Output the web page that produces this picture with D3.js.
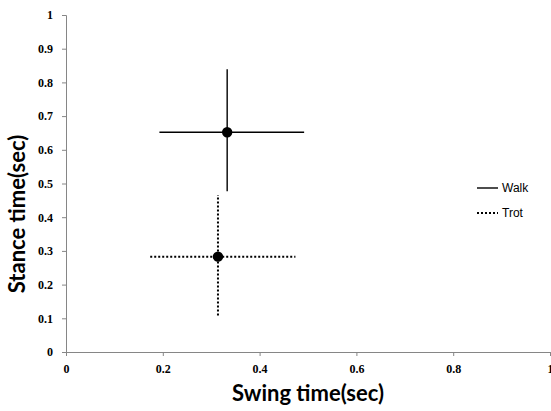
<!DOCTYPE html>
<html>
<head>
<meta charset="utf-8">
<script src="https://cdn.jsdelivr.net/npm/d3@7"></script>
<style>
    body { margin: 0; background: #fff; }
    svg { display: block; }
</style>
</head>
<body>
<div id="chart"></div>
<script>
'use strict';

// data
var seriesNames = ['Walk', 'Trot'];
var swingMean = [0.333, 0.314];
var swingLow = [0.193, 0.174];
var swingHigh = [0.492, 0.474];
var stanceMean = [0.652, 0.283];
var stanceLow = [0.477, 0.108];
var stanceHigh = [0.839, 0.466];
var xTicks = [0, 0.2, 0.4, 0.6, 0.8, 1];
var yTicks = [0, 0.1, 0.2, 0.3, 0.4, 0.5, 0.6, 0.7, 0.8, 0.9, 1];

var width = 551,
    height = 411,
    margin = { top: 15, left: 66, right: 1, bottom: 59 },
    axisColor = '#868686',
    dashes = [null, '2,2'],
    strokeW = [1.4, 2];

var svg = d3.select('#chart').append('svg')
    .attr('width', width)
    .attr('height', height);

var x = d3.scaleLinear().domain([0, 1]).range([margin.left, width - margin.right]),
    y = d3.scaleLinear().domain([0, 1]).range([height - margin.bottom, margin.top]);

var tickFont = '"Liberation Serif", "Times New Roman", serif',
    titleFont = 'Lato, "Open Sans", sans-serif';

//Y axis
var yAxis = svg.append('g')
    .attr('transform', 'translate(' + margin.left + ',0)')
    .call(d3.axisLeft(y).tickValues(yTicks).tickSize(4).tickPadding(9)
        .tickFormat(d => d3.format('')(+d.toFixed(1))));

//X axis
var xAxis = svg.append('g')
    .attr('transform', 'translate(0,' + y(0) + ')')
    .call(d3.axisBottom(x).tickValues(xTicks).tickSize(4).tickPadding(8)
        .tickFormat(d => d3.format('')(+d.toFixed(1))));

[xAxis, yAxis].forEach(function (ax) {
    ax.select('.domain').attr('stroke', axisColor);
    ax.selectAll('.tick line').attr('stroke', axisColor);
    ax.selectAll('.tick text')
        .attr('fill', '#000')
        .style('font-family', tickFont)
        .style('font-weight', 'bold')
        .style('font-size', '12px');
});

//Axis titles
svg.append('text')
    .attr('x', 308)
    .attr('y', 401)
    .attr('text-anchor', 'middle')
    .style('font-family', titleFont)
    .style('font-weight', 'bold')
    .style('font-size', '22px')
    .text('Swing time(sec)');

svg.append('text')
    .attr('transform', 'translate(25,214) rotate(-90)')
    .attr('text-anchor', 'middle')
    .style('font-family', titleFont)
    .style('font-weight', 'bold')
    .style('font-size', '22px')
    .text('Stance time(sec)');

//Error bars and points
var plot = svg.append('g').attr('class', 'series');

seriesNames.forEach(function (name, i) {
    var g = plot.append('g');
    g.append('line')
        .attr('x1', x(swingLow[i]))
        .attr('x2', x(swingHigh[i]))
        .attr('y1', y(stanceMean[i]))
        .attr('y2', y(stanceMean[i]))
        .attr('stroke', '#000')
        .attr('stroke-width', strokeW[i])
        .attr('stroke-dasharray', dashes[i]);
    g.append('line')
        .attr('x1', x(swingMean[i]))
        .attr('x2', x(swingMean[i]))
        .attr('y1', y(stanceLow[i]))
        .attr('y2', y(stanceHigh[i]))
        .attr('stroke', '#000')
        .attr('stroke-width', strokeW[i])
        .attr('stroke-dasharray', dashes[i]);
    g.append('circle')
        .attr('cx', x(swingMean[i]))
        .attr('cy', y(stanceMean[i]))
        .attr('r', 5.2)
        .attr('fill', '#000');
});

//Legend
var legend = svg.append('g').attr('transform', 'translate(477,188)');
seriesNames.forEach(function (name, i) {
    var row = legend.append('g').attr('transform', 'translate(0,' + (i * 25) + ')');
    row.append('line')
        .attr('x1', 0)
        .attr('x2', 21)
        .attr('stroke', '#000')
        .attr('stroke-width', strokeW[i])
        .attr('stroke-dasharray', dashes[i]);
    row.append('text')
        .attr('x', 25)
        .attr('dy', '0.35em')
        .style('font-family', '"Liberation Sans", Arial, sans-serif')
        .style('font-size', '12px')
        .text(name);
});
</script>
</body>
</html>
